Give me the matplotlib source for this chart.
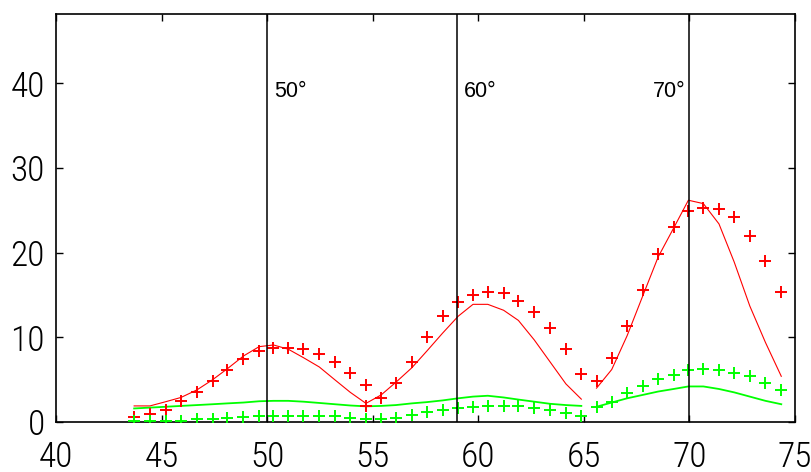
import matplotlib
matplotlib.use("Agg")
import matplotlib.pyplot as plt
from matplotlib import font_manager
from matplotlib.font_manager import FontProperties

# ---------------- data ----------------
x_seg1 = [43.70, 44.45, 45.20, 45.92, 46.68, 47.42, 48.12, 48.88, 49.62, 50.30,
          51.00, 51.72, 52.47, 53.20, 53.94, 54.68]
x_seg2 = [54.68, 55.40, 56.10, 56.85, 57.57, 58.31, 59.05, 59.75, 60.45, 61.20,
          61.90, 62.65, 63.40, 64.15, 64.88]
x_seg3 = [65.60, 66.32, 67.05, 67.79, 68.52, 69.25, 69.95, 70.66, 71.40, 72.12,
          72.86, 73.60, 74.35]

red_pts1 = [0.6, 0.9, 1.4, 2.5, 3.5, 4.8, 6.2, 7.5, 8.4, 8.7, 8.8, 8.6, 8.0, 7.1, 5.8, 4.4]
red_pts2 = [1.9, 2.8, 4.6, 7.1, 10.0, 12.5, 14.2, 15.0, 15.3, 15.2, 14.3, 13.0, 11.1, 8.6, 5.7]
red_pts3 = [4.9, 7.6, 11.3, 15.6, 19.8, 23.0, 24.9, 25.3, 25.2, 24.2, 22.0, 19.0, 15.3]

green_pts1 = [0.1, 0.1, 0.1, 0.1, 0.4, 0.4, 0.5, 0.6, 0.7, 0.7, 0.7, 0.7, 0.7, 0.7, 0.5, 0.3]
green_pts2 = [0.3, 0.4, 0.45, 0.8, 1.2, 1.4, 1.7, 1.8, 1.9, 1.9, 1.9, 1.7, 1.4, 1.1, 0.7]
green_pts3 = [1.8, 2.4, 3.4, 4.2, 5.1, 5.6, 6.1, 6.3, 6.1, 5.8, 5.4, 4.6, 3.8]

red_line1 = [1.9, 1.9, 2.4, 2.9, 3.8, 5.0, 6.3, 7.8, 8.9, 9.1, 8.6, 7.6, 6.5, 5.0, 3.5, 2.2]
red_line2 = [2.2, 3.2, 4.7, 6.4, 8.4, 10.5, 12.5, 13.9, 13.9, 13.2, 12.0, 9.7, 7.1, 4.5, 2.7]
red_line3 = [4.0, 6.2, 10.2, 14.9, 19.5, 22.9, 26.2, 25.8, 23.4, 18.9, 13.7, 9.4, 5.4]

green_line1 = [1.6, 1.7, 1.8, 1.9, 2.0, 2.1, 2.2, 2.3, 2.45, 2.5, 2.5, 2.4, 2.25, 2.1, 1.95, 1.85]
green_line2 = [1.85, 1.9, 2.0, 2.2, 2.35, 2.55, 2.8, 3.0, 3.1, 2.9, 2.65, 2.4, 2.15, 2.0, 1.9]
green_line3 = [1.8, 2.3, 2.8, 3.2, 3.6, 3.9, 4.2, 4.2, 3.9, 3.5, 3.0, 2.5, 2.1]

vlines_x = [50, 59, 70]
vline_labels = ["50°", "60°", "70°"]
label_x = [50.35, 59.30, 68.25]
label_y = 39.0

x_ticks = [40, 45, 50, 55, 60, 65, 70, 75]
y_ticks = [0, 10, 20, 30, 40]

# ---------------- fonts ----------------
def find_condensed():
    prefs = ["liberationsansnarrow-regular", "robotocondensed-light",
             "robotocondensed-regular", "dejavusanscondensed.ttf",
             "opensans_condensed", "notosans-condensed", "notosanscondensed"]
    files = [f.fname for f in font_manager.fontManager.ttflist]
    low = [(p.lower(), p) for p in files]
    for key in prefs:
        for lp, p in low:
            if key in lp.replace(" ", ""):
                return p
    for f in font_manager.fontManager.ttflist:
        if f.stretch in ("condensed", "semi-condensed", "extra-condensed") \
                and f.style == "normal" and f.weight in (300, 400, "normal", "regular", "light"):
            return f.fname
    return None

cond = find_condensed()
if cond is not None:
    tick_fp = FontProperties(fname=cond, size=25.5)
else:
    tick_fp = FontProperties(family=["Liberation Sans", "DejaVu Sans"], size=19)
label_family = ["Liberation Sans", "DejaVu Sans"]

# ---------------- figure ----------------
fig = plt.figure(figsize=(8.11, 4.72), dpi=100)
ax = fig.add_axes([56 / 811, 50 / 472, 739 / 811, 408 / 472])

RED = "#ff0000"
GREEN = "#00ff00"

for xs, ys in [(x_seg1, red_line1), (x_seg2, red_line2), (x_seg3, red_line3)]:
    ax.plot(xs, ys, color=RED, lw=0.8, zorder=3)
for xs, ys in [(x_seg1, green_line1), (x_seg2, green_line2), (x_seg3, green_line3)]:
    ax.plot(xs, ys, color=GREEN, lw=1.3, zorder=3)
for xs, ys in [(x_seg1, red_pts1), (x_seg2, red_pts2), (x_seg3, red_pts3)]:
    ax.plot(xs, ys, linestyle="none", marker="+", ms=8, mew=1.4, color=RED, zorder=4)
for xs, ys in [(x_seg1, green_pts1), (x_seg2, green_pts2), (x_seg3, green_pts3)]:
    ax.plot(xs, ys, linestyle="none", marker="+", ms=8, mew=1.4, color=GREEN, zorder=4)

for vx in vlines_x:
    ax.axvline(vx, color="black", lw=1.1, zorder=5)
for lx, txt in zip(label_x, vline_labels):
    ax.text(lx, label_y, txt, ha="left", va="center", fontsize=15.5,
            family=label_family, color="black", zorder=6)

ax.set_xlim(40, 75)
ax.set_ylim(0, 48.2)
ax.set_xticks(x_ticks)
ax.set_yticks(y_ticks)
ax.tick_params(direction="in", length=5, width=1, top=True, right=True, colors="black")
ax.tick_params(axis="x", pad=13)
ax.tick_params(axis="y", pad=8)
for lab in ax.get_xticklabels() + ax.get_yticklabels():
    lab.set_fontproperties(tick_fp)
for s in ax.spines.values():
    s.set_linewidth(1.2)
    s.set_color("black")

fig.savefig("out.png", dpi=100)
